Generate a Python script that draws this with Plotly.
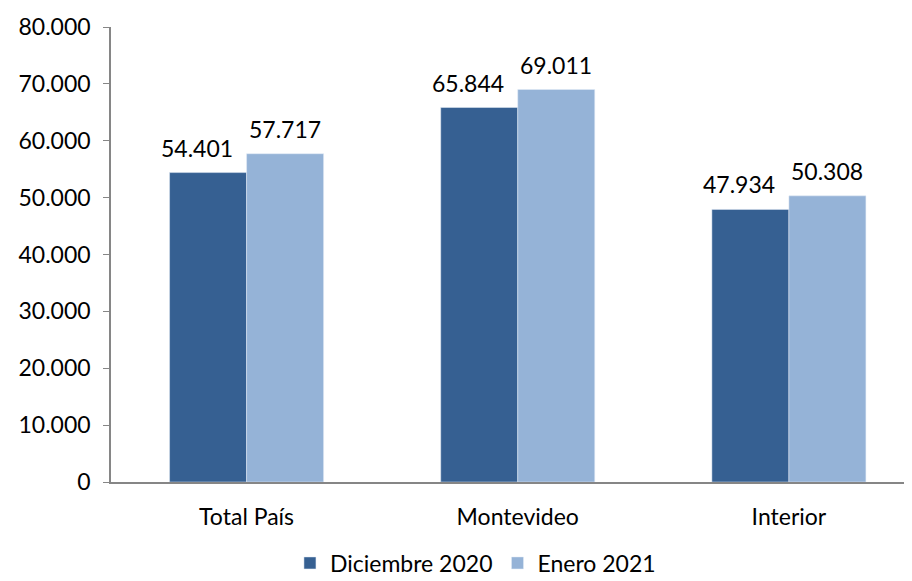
import plotly.graph_objects as go

categories = ["Total País", "Montevideo", "Interior"]
dic_2020 = [54401, 65844, 47934]
ene_2021 = [57717, 69011, 50308]
series_names = ["Diciembre 2020", "Enero 2021"]
colors = ["#366092", "#95B3D7"]
y_ticks = [0, 10000, 20000, 30000, 40000, 50000, 60000, 70000, 80000]

font = dict(family="Lato, 'Open Sans', sans-serif", size=23, color="#000000")


def fmt(v):
    return f"{v:,}".replace(",", ".")


fig = go.Figure()
for name, vals, col in zip(series_names, [dic_2020, ene_2021], colors):
    fig.add_trace(go.Bar(
        x=categories, y=vals, name=name, marker_color=col,
    ))

# data labels
for vals, xs in [(dic_2020, -50), (ene_2021, 38)]:
    for c, v in zip(categories, vals):
        fig.add_annotation(x=c, y=v, text=fmt(v), showarrow=False,
                           xshift=xs, yshift=25, yanchor="middle",
                           font=font)

fig.update_layout(
    width=904, height=573,
    margin=dict(l=103, r=0, t=19, b=99, autoexpand=False),
    paper_bgcolor="white", plot_bgcolor="white",
    font=font,
    separators=",.",
    barmode="group", bargap=0.432, bargroupgap=0,
    legend=dict(orientation="h", x=0.455, xanchor="center", y=-0.178, yanchor="middle",
                font=dict(size=23), itemwidth=30, traceorder="normal"),
    showlegend=True,
)
fig.update_yaxes(range=[0, 80000], tickvals=y_ticks, tickformat=",d",
                 showgrid=False, showline=True, linecolor="#868686", linewidth=1.5,
                 ticks="outside", ticklen=6, tickcolor="#868686", zeroline=False,
                 ticklabelstandoff=8, automargin=False)
fig.update_xaxes(range=[-0.5, 2.454], showline=True, linecolor="#868686", linewidth=1.5,
                 ticks="", showgrid=False, ticklabelstandoff=14, automargin=False)

fig.write_html("out.html")
